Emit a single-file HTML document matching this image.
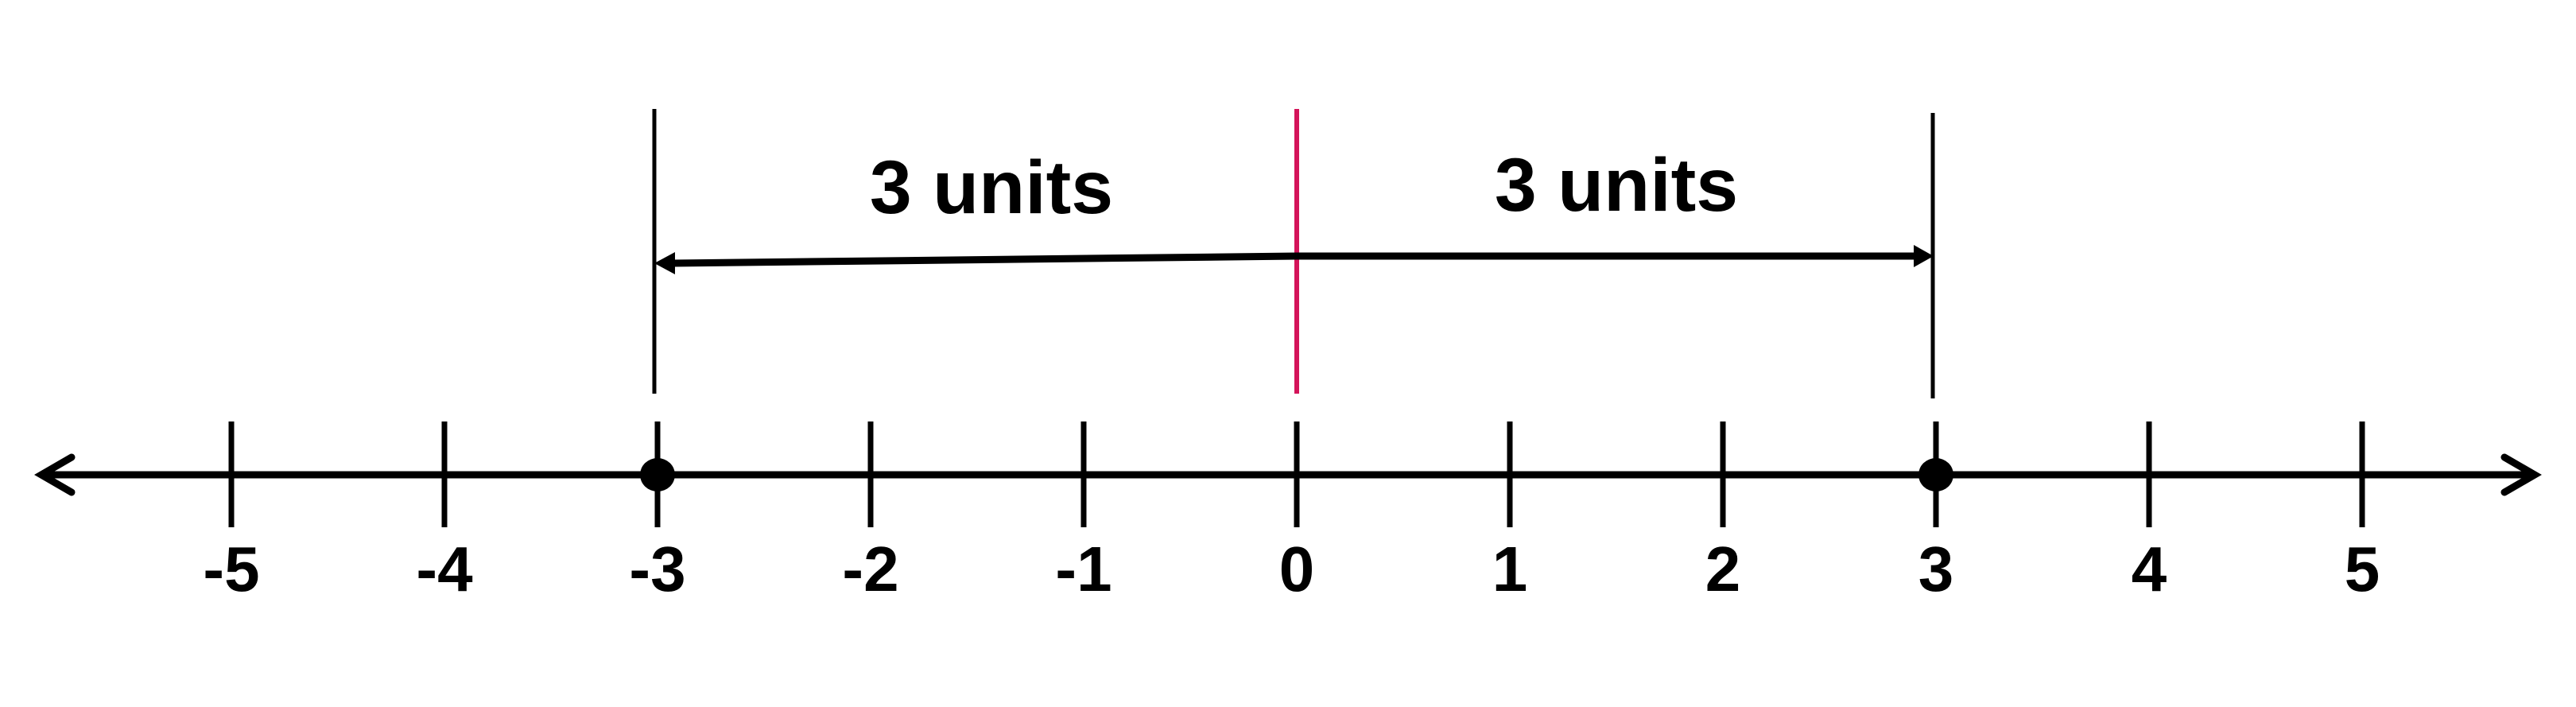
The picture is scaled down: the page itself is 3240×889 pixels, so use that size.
<!DOCTYPE html>
<html><head><meta charset="utf-8"><style>
html,body{margin:0;padding:0;background:#fff;}
svg{display:block}
text{font-family:"Liberation Sans",sans-serif;font-weight:bold;fill:#000}
</style></head><body>
<svg id="chart" width="3240" height="889" viewBox="0 0 3240 889" xmlns="http://www.w3.org/2000/svg">
<rect width="3240" height="889" fill="#fff"/>
<g id="axis">
  <line x1="52" y1="597" x2="3186" y2="597" stroke="#000" stroke-width="9"/>
  <polyline points="90,575 52,597 90,619" fill="none" stroke="#000" stroke-width="9" stroke-linecap="round"/>
  <polyline points="3150,575 3188,597 3150,619" fill="none" stroke="#000" stroke-width="9" stroke-linecap="round"/>
</g>
<g id="ticks"></g>
<g id="marks"></g>
</svg>
<script>
const tickValues = [-5,-4,-3,-2,-1,0,1,2,3,4,5];
const tickLabels = ["-5","-4","-3","-2","-1","0","1","2","3","4","5"];
const pointValues = [-3,3];
const distanceLabels = ["3 units","3 units"];

const NS = "http://www.w3.org/2000/svg";
const x = v => 1631 + 268 * v;
const axisY = 597;
function mk(tag, attrs, parent){
  const e = document.createElementNS(NS, tag);
  for (const k in attrs) e.setAttribute(k, attrs[k]);
  parent.appendChild(e);
  return e;
}
const ticks = document.getElementById('ticks');
tickValues.forEach((v,i)=>{
  const t = mk('line',{x1:x(v),x2:x(v),y1:530,y2:663,stroke:'#000','stroke-width':7},ticks);
  
  
  const l = mk('text',{x:x(v),y:743,'text-anchor':'middle','font-size':80},ticks);
  l.textContent = tickLabels[i];
  
  
});
const marks = document.getElementById('marks');
pointValues.forEach(v=>{
  const c = mk('ellipse',{cx:x(v),cy:axisY,rx:22,ry:21,fill:'#000'},marks);
  
  
  const g = mk('line',{x1:x(v)-4,x2:x(v)-4,y1:v<0?137:142,y2:v<0?495:501,stroke:'#000','stroke-width':5},marks);
  
  
});
const z = mk('line',{x1:x(0),x2:x(0),y1:137,y2:495,stroke:'#d4145a','stroke-width':6},marks);


// distance arrows
const la = mk('line',{x1:x(pointValues[0])+20,y1:331,x2:x(0),y2:322,stroke:'#000','stroke-width':9},marks);


const lh = mk('polygon',{points:`${x(pointValues[0])-4},331 ${x(pointValues[0])+22},317 ${x(pointValues[0])+22},345`,fill:'#000'},marks);


const ra = mk('line',{x1:x(0),y1:322,x2:x(pointValues[1])-22,y2:322,stroke:'#000','stroke-width':9},marks);


const rh = mk('polygon',{points:`${x(pointValues[1])-3},322 ${x(pointValues[1])-28},308 ${x(pointValues[1])-28},336`,fill:'#000'},marks);


const t1 = mk('text',{x:(x(pointValues[0])+x(0))/2+18,y:268,'text-anchor':'middle','font-size':95},marks);
t1.textContent = distanceLabels[0];


const t2 = mk('text',{x:(x(pointValues[1])+x(0))/2,y:265,'text-anchor':'middle','font-size':95},marks);
t2.textContent = distanceLabels[1];


</script>
</body></html>
